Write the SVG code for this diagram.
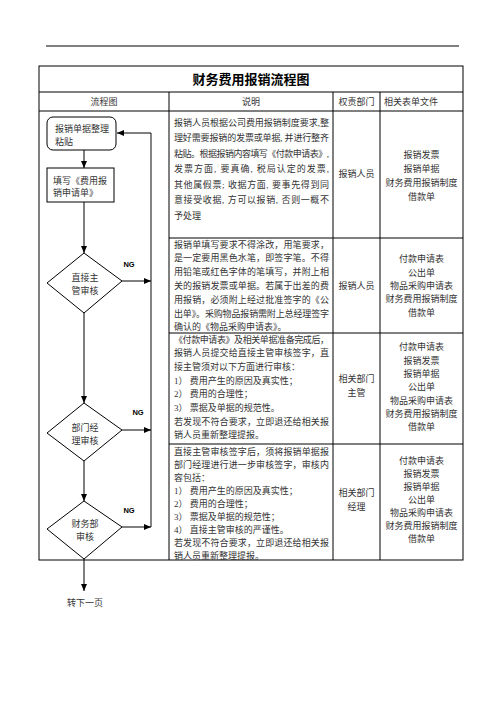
<svg xmlns="http://www.w3.org/2000/svg" width="496" height="702" viewBox="0 0 496 702">
<defs>
<marker id="ah" markerWidth="8" markerHeight="8" refX="7" refY="4" orient="auto" markerUnits="userSpaceOnUse">
<path d="M0,1 L7,4 L0,7 Z" fill="#000"/>
</marker>
<style>
.t{font-family:"Liberation Serif","Noto Sans CJK SC",serif;font-size:9px;fill:#333}
.c{text-anchor:middle}
.ttl{font-family:"Liberation Serif","Noto Sans CJK SC",serif;font-size:13px;font-weight:bold;fill:#000;text-anchor:middle}
.ng{font-family:"Liberation Sans",Arial,sans-serif;font-size:7.5px;font-weight:bold;fill:#000;text-anchor:middle}
.ln{stroke:#000;stroke-width:1;fill:none}
.shape{fill:#fff;stroke:#000;stroke-width:1}
.flow{stroke:#000;stroke-width:1;fill:none;marker-end:url(#ah)}
.ret{stroke:#777;stroke-width:1.8;fill:none}
</style>
</defs>
<rect width="496" height="702" fill="#fff"/>
<line x1="46" y1="46" x2="459" y2="46" class="ln"/>

<g id="table">
<rect x="39" y="66" width="424" height="494" class="ln"/>
<line x1="39" y1="92" x2="463" y2="92" class="ln"/>
<line x1="39" y1="111" x2="463" y2="111" class="ln"/>
<line x1="169" y1="92" x2="169" y2="560" class="ln"/>
<line x1="333" y1="92" x2="333" y2="560" class="ln"/>
<line x1="380" y1="92" x2="380" y2="560" class="ln"/>
<line x1="169" y1="238" x2="463" y2="238" class="ln"/>
<line x1="169" y1="333" x2="463" y2="333" class="ln"/>
<line x1="169" y1="444" x2="463" y2="444" class="ln"/>
<text x="251" y="84" class="ttl">财务费用报销流程图</text>
<text x="104" y="104.5" class="t c">流程图</text>
<text x="251" y="104.5" class="t c">说明</text>
<text x="356.5" y="104.5" class="t c">权责部门</text>
<text x="384" y="104.5" class="t">相关表单文件</text>
</g>

<g id="desc">
<text x="174" y="125.5" class="t" textLength="155" lengthAdjust="spacing">报销人员根据公司费用报销制度要求,整</text>
<text x="174" y="141" class="t" textLength="155" lengthAdjust="spacing">理好需要报销的发票或单据, 并进行整齐</text>
<text x="174" y="156.5" class="t" textLength="155" lengthAdjust="spacing">粘贴。根据报销内容填写《付款申请表》,</text>
<text x="174" y="172" class="t" textLength="155" lengthAdjust="spacing">发票方面, 要真确, 税局认定的发票,</text>
<text x="174" y="187.5" class="t" textLength="155" lengthAdjust="spacing">其他属假票; 收据方面, 要事先得到同</text>
<text x="174" y="203" class="t" textLength="155" lengthAdjust="spacing">意接受收据, 方可以报销, 否则一概不</text>
<text x="174" y="218.5" class="t">予处理</text>

<text x="174" y="247.5" class="t" textLength="155" lengthAdjust="spacing">报销单填写要求不得涂改，用笔要求，</text>
<text x="174" y="261.3" class="t" textLength="155" lengthAdjust="spacing">是一定要用黑色水笔，即签字笔。不得</text>
<text x="174" y="275.1" class="t" textLength="155" lengthAdjust="spacing">用铅笔或红色字体的笔填写，并附上相</text>
<text x="174" y="288.9" class="t" textLength="155" lengthAdjust="spacing">关的报销发票或单据。若属于出差的费</text>
<text x="174" y="302.7" class="t" textLength="155" lengthAdjust="spacing">用报销，必须附上经过批准签字的《公</text>
<text x="174" y="316.5" class="t" textLength="155" lengthAdjust="spacing">出单》。采购物品报销需附上总经理签字</text>
<text x="174" y="330.3" class="t">确认的《物品采购申请表》。</text>

<text x="174" y="342.5" class="t" textLength="155" lengthAdjust="spacing">《付款申请表》及相关单据准备完成后，</text>
<text x="174" y="356.2" class="t" textLength="155" lengthAdjust="spacing">报销人员提交给直接主管审核签字，直</text>
<text x="174" y="369.9" class="t">接主管须对以下方面进行审核：</text>
<text x="174" y="383.6" class="t">1）  费用产生的原因及真实性；</text>
<text x="174" y="397.3" class="t">2）  费用的合理性；</text>
<text x="174" y="411" class="t">3）  票据及单据的规范性。</text>
<text x="174" y="424.7" class="t" textLength="155" lengthAdjust="spacing">若发现不符合要求，立即退还给相关报</text>
<text x="174" y="438.4" class="t">销人员重新整理提报。</text>

<text x="174" y="454.5" class="t" textLength="155" lengthAdjust="spacing">直接主管审核签字后，须将报销单据报</text>
<text x="174" y="467.6" class="t" textLength="155" lengthAdjust="spacing">部门经理进行进一步审核签字，审核内</text>
<text x="174" y="480.7" class="t">容包括：</text>
<text x="174" y="493.8" class="t">1）  费用产生的原因及真实性；</text>
<text x="174" y="506.9" class="t">2）  费用的合理性；</text>
<text x="174" y="520" class="t">3）  票据及单据的规范性；</text>
<text x="174" y="533.1" class="t">4）  直接主管审核的严谨性。</text>
<text x="174" y="546.2" class="t" textLength="155" lengthAdjust="spacing">若发现不符合要求，立即退还给相关报</text>
<text x="174" y="559" class="t">销人员重新整理提报。</text>
</g>

<g id="dept">
<text x="356.5" y="176.5" class="t c">报销人员</text>
<text x="356.5" y="288.5" class="t c">报销人员</text>
<text x="356.5" y="381.5" class="t c">相关部门</text>
<text x="356.5" y="395.5" class="t c">主管</text>
<text x="356.5" y="495.5" class="t c">相关部门</text>
<text x="356.5" y="509.5" class="t c">经理</text>
</g>

<g id="forms">
<text x="421.5" y="158.4" class="t c">报销发票</text>
<text x="421.5" y="172.4" class="t c">报销单据</text>
<text x="421.5" y="186.4" class="t c">财务费用报销制度</text>
<text x="421.5" y="200.4" class="t c">借款单</text>

<text x="421.5" y="262.4" class="t c">付款申请表</text>
<text x="421.5" y="275.6" class="t c">公出单</text>
<text x="421.5" y="289" class="t c">物品采购申请表</text>
<text x="421.5" y="302.3" class="t c">财务费用报销制度</text>
<text x="421.5" y="315.6" class="t c">借款单</text>

<text x="421.5" y="350.4" class="t c">付款申请表</text>
<text x="421.5" y="364" class="t c">报销发票</text>
<text x="421.5" y="377.2" class="t c">报销单据</text>
<text x="421.5" y="390.4" class="t c">公出单</text>
<text x="421.5" y="403.6" class="t c">物品采购申请表</text>
<text x="421.5" y="416.8" class="t c">财务费用报销制度</text>
<text x="421.5" y="430" class="t c">借款单</text>

<text x="421.5" y="464.4" class="t c">付款申请表</text>
<text x="421.5" y="477.4" class="t c">报销发票</text>
<text x="421.5" y="490.4" class="t c">报销单据</text>
<text x="421.5" y="503.4" class="t c">公出单</text>
<text x="421.5" y="516.4" class="t c">物品采购申请表</text>
<text x="421.5" y="529.4" class="t c">财务费用报销制度</text>
<text x="421.5" y="542.4" class="t c">借款单</text>
</g>

<g id="connectors">
<line x1="151" y1="133" x2="151" y2="527" class="ret"/>
<line x1="151" y1="133" x2="117" y2="133" class="flow"/>
<line x1="84" y1="150" x2="84" y2="168" class="flow"/>
<line x1="84" y1="202" x2="84" y2="253" class="flow"/>
<line x1="84" y1="313" x2="84" y2="403" class="flow"/>
<line x1="84" y1="461" x2="84" y2="501" class="flow"/>
<line x1="84" y1="559" x2="84" y2="591" class="flow"/>
<line x1="122" y1="281" x2="151" y2="281" class="flow"/>
<line x1="122" y1="430" x2="151" y2="430" class="flow"/>
<line x1="122" y1="527" x2="151" y2="527" class="flow"/>
<text x="129" y="266.5" class="ng">NG</text>
<text x="138" y="415" class="ng">NG</text>
<text x="129" y="513" class="ng">NG</text>
</g>

<g id="n1">
<rect x="47" y="117" width="69" height="33" rx="6" ry="6" class="shape"/>
<text x="55" y="131.5" class="t">报销单据整理</text>
<text x="55" y="145" class="t">粘贴</text>
</g>
<g id="n2">
<rect x="47" y="168" width="67" height="34" class="shape"/>
<text x="53" y="183.5" class="t">填写《费用报</text>
<text x="53" y="195.5" class="t">销申请单》</text>
</g>
<g id="n3">
<polygon points="84,253 122,281 84,313 47,283" class="shape"/>
<text x="85" y="280.5" class="t c">直接主</text>
<text x="85" y="293.5" class="t c">管审核</text>
</g>
<g id="n4">
<polygon points="84,403 122,430 84,461 47,433" class="shape"/>
<text x="85" y="430.5" class="t c">部门经</text>
<text x="85" y="443.5" class="t c">理审核</text>
</g>
<g id="n5">
<polygon points="84,501 122,527 84,559 47,529" class="shape"/>
<text x="85" y="526.5" class="t c">财务部</text>
<text x="85" y="539.5" class="t c">审核</text>
</g>
<g id="n6">
<text x="85" y="605.5" class="t c">转下一页</text>
</g>
</svg>
